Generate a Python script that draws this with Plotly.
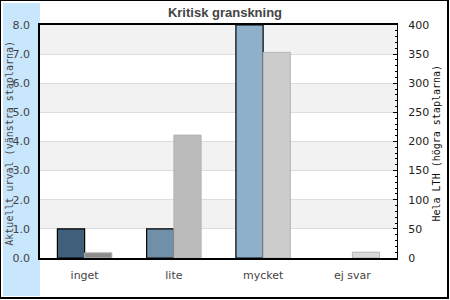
import plotly.graph_objects as go

categories = ["inget", "lite", "mycket", "ej svar"]
urval_values = [1, 1, 8, 0]
lth_values = [9, 211, 353, 10]
urval_colors = ["#3f5f7a", "#7090aa", "#8fb0ca", "#b0c8dc"]
lth_colors = ["#8c8c8c", "#bbbbbb", "#cccccc", "#d9d9d9"]
left_ticks = [0, 1, 2, 3, 4, 5, 6, 7, 8]
left_ticktext = [f"{v:.1f}" for v in left_ticks]
right_ticks = [0, 50, 100, 150, 200, 250, 300, 350, 400]

W, H = 450, 300
L, R, T, B = 40, 53, 25, 42
pw, ph = W - L - R, H - T - B


def px(xp):
    return (xp - L) / pw


def py(yp):
    return (H - B - yp) / ph


urval_line_widths = [1.2 if v > 0 else 0 for v in urval_values]

fig = go.Figure()
fig.add_trace(go.Bar(
    x=categories, y=urval_values, yaxis="y", offsetgroup="1",
    marker=dict(color=urval_colors, line=dict(color="#000000", width=urval_line_widths)),
    showlegend=False,
))
fig.add_trace(go.Bar(
    x=categories, y=lth_values, yaxis="y2", offsetgroup="2",
    marker=dict(color=lth_colors, line=dict(color="#b4b4b4", width=1)),
    showlegend=False,
))

shapes = []
# outer light-blue band
shapes.append(dict(type="rect", xref="paper", yref="paper",
                   x0=px(3), x1=0, y0=py(296), y1=py(3),
                   fillcolor="#c8e6fc", line=dict(width=0), layer="below"))
# alternating bands
for lo in [1, 3, 5, 7]:
    shapes.append(dict(type="rect", xref="paper", yref="y",
                       x0=0, x1=1, y0=lo, y1=lo + 1,
                       fillcolor="#f2f2f2", line=dict(width=0), layer="below"))
# outer border
shapes.append(dict(type="rect", xref="paper", yref="paper",
                   x0=px(0), x1=px(448), y0=py(298), y1=py(0),
                   line=dict(color="#000000", width=2), fillcolor="rgba(0,0,0,0)"))

fig.update_layout(
    width=W, height=H,
    margin=dict(l=L, r=R, t=T, b=B),
    paper_bgcolor="#ffffff", plot_bgcolor="#ffffff",
    barmode="group", bargap=0.39, bargroupgap=0,
    title=dict(text="<b>Kritisk granskning</b>", x=0.5, xref="container",
               xanchor="center", y=1 - 12 / H, yanchor="middle",
               font=dict(family="Liberation Sans", size=13, color="#444444")),
    xaxis=dict(showline=True, linecolor="#000000", linewidth=1.5, mirror=True,
               ticks="", showgrid=False, ticklabelstandoff=6,
               tickfont=dict(family="DejaVu Sans", size=11, color="#444444")),
    yaxis=dict(range=[0, 8], tickvals=left_ticks, ticktext=left_ticktext,
               showline=True, linecolor="#000000", linewidth=1.5, ticks="",
               showgrid=True, gridcolor="#dddddd", gridwidth=1, zeroline=False,
               ticklabelstandoff=6,
               tickfont=dict(family="DejaVu Sans", size=11, color="#444444")),
    yaxis2=dict(range=[0, 400], tickvals=right_ticks, overlaying="y", side="right",
                showline=True, linecolor="#000000", linewidth=1, showgrid=False,
                zeroline=False, ticks="inside", ticklen=4, tickcolor="#000000",
                minor=dict(dtick=10, ticks="inside", ticklen=2, tickcolor="#000000", showgrid=False),
                ticklabelstandoff=8,
                tickfont=dict(family="DejaVu Sans", size=11, color="#222222")),
    shapes=shapes,
    annotations=[
        dict(text="Aktuellt urval (vänstra staplarna)", xref="paper", yref="paper",
             x=px(8.7), y=py(143), textangle=-90, showarrow=False,
             xanchor="center", yanchor="middle",
             font=dict(family="DejaVu Sans Mono", size=10, color="#444444")),
        dict(text="Hela LTH (högra staplarna)", xref="paper", yref="paper",
             x=px(435.5), y=py(143), textangle=-90, showarrow=False,
             xanchor="center", yanchor="middle",
             font=dict(family="DejaVu Sans Mono", size=10, color="#111111")),
    ],
)

fig.write_html("out.html")
